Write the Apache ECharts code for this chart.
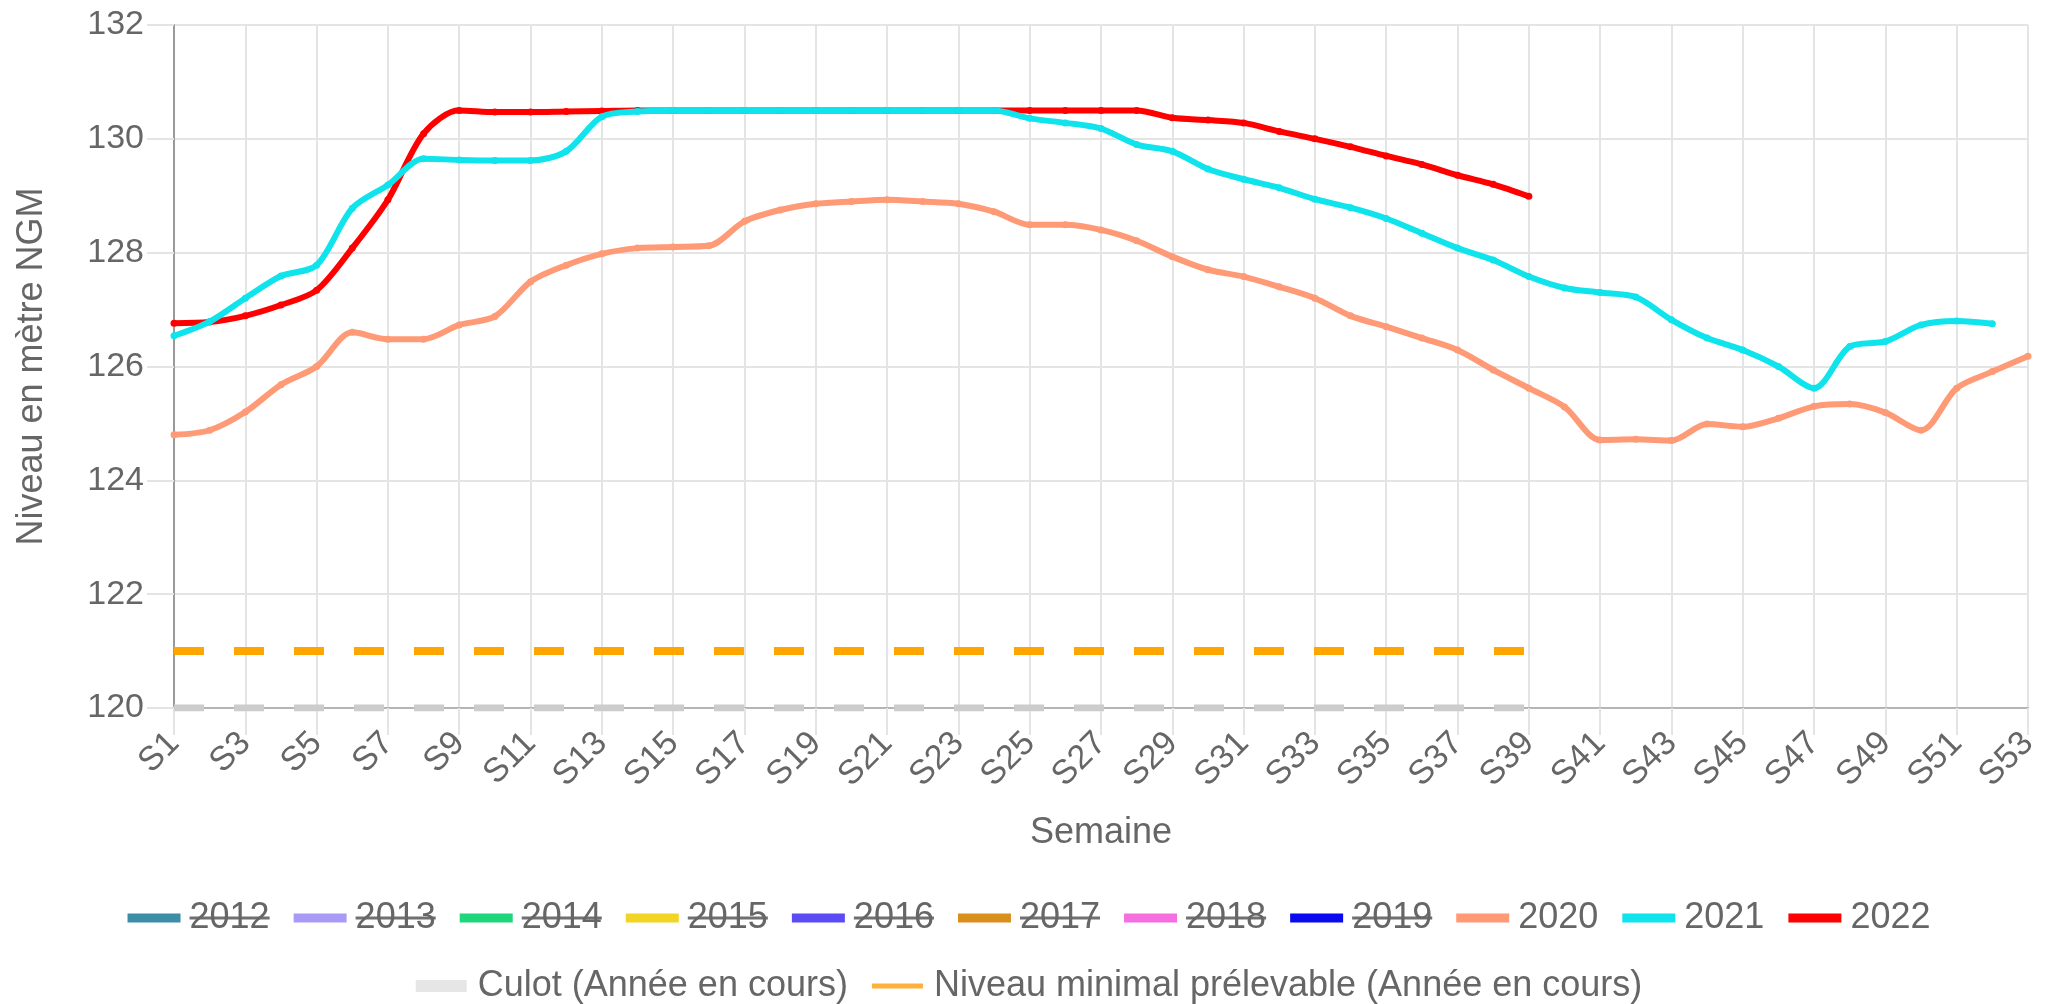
<!DOCTYPE html>
<html>
<head>
<meta charset="utf-8">
<script src="https://cdn.jsdelivr.net/npm/echarts@6/dist/echarts.min.js"></script>
<style>
html,body{margin:0;padding:0;background:#fff;}
#chart{width:2058px;height:1004px;}
</style>
</head>
<body>
<div id="chart"></div>
<script>
const weeks = ['S1','S2','S3','S4','S5','S6','S7','S8','S9','S10','S11','S12','S13','S14','S15','S16','S17','S18','S19','S20','S21','S22','S23','S24','S25','S26','S27','S28','S29','S30','S31','S32','S33','S34','S35','S36','S37','S38','S39','S40','S41','S42','S43','S44','S45','S46','S47','S48','S49','S50','S51','S52','S53'];
const yTicks = [120, 122, 124, 126, 128, 130, 132];

const years = ['2012','2013','2014','2015','2016','2017','2018','2019','2020','2021','2022'];
const hiddenYears = ['2012','2013','2014','2015','2016','2017','2018','2019'];

const y2012 = [];
const y2013 = [];
const y2014 = [];
const y2015 = [];
const y2016 = [];
const y2017 = [];
const y2018 = [];
const y2019 = [];
const y2020 = [124.8,124.88,125.2,125.68,126.0,126.6,126.48,126.48,126.73,126.88,127.49,127.78,127.98,128.08,128.1,128.12,128.55,128.75,128.86,128.9,128.93,128.9,128.86,128.72,128.49,128.49,128.4,128.21,127.93,127.7,127.58,127.4,127.2,126.89,126.7,126.5,126.29,125.94,125.62,125.29,124.71,124.72,124.7,124.99,124.94,125.09,125.3,125.34,125.19,124.88,125.62,125.91,126.18];
const y2021 = [126.54,126.79,127.2,127.59,127.78,128.78,129.19,129.65,129.63,129.62,129.62,129.78,130.39,130.48,130.5,130.5,130.5,130.5,130.5,130.5,130.5,130.5,130.5,130.5,130.36,130.28,130.18,129.9,129.78,129.47,129.29,129.14,128.94,128.79,128.6,128.34,128.08,127.87,127.58,127.38,127.3,127.22,126.82,126.5,126.29,126.0,125.62,126.35,126.44,126.73,126.8,126.75];
const y2022 = [126.76,126.78,126.89,127.08,127.34,128.08,128.93,130.09,130.5,130.47,130.47,130.48,130.49,130.5,130.5,130.5,130.5,130.5,130.5,130.5,130.5,130.5,130.5,130.5,130.5,130.5,130.5,130.5,130.37,130.33,130.28,130.13,130.0,129.86,129.7,129.55,129.36,129.2,128.99];
const culot = [120,120,120,120,120,120,120,120,120,120,120,120,120,120,120,120,120,120,120,120,120,120,120,120,120,120,120,120,120,120,120,120,120,120,120,120,120,120,120];
const niveauMin = [121,121,121,121,121,121,121,121,121,121,121,121,121,121,121,121,121,121,121,121,121,121,121,121,121,121,121,121,121,121,121,121,121,121,121,121,121,121,121];

const yearData = [y2012,y2013,y2014,y2015,y2016,y2017,y2018,y2019,y2020,y2021,y2022];
const yearColors = ['#3B8EA5','#A99BF5','#1FD67A','#F2D524','#5A4BF5','#D98E1E','#F56FDF','#0A0AF0','#FF9A76','#0FE3EB','#FF0000'];
const yearZ = [2,2,2,2,2,2,2,2,6,5,4];

const FONT = '"Liberation Sans", Arial, Helvetica, sans-serif';
const grayText = '#666';
const gridColor = '#e4e4e4';

const series = years.map((y, i) => ({
  name: y,
  type: 'line',
  data: yearData[i],
  z: yearZ[i],
  smooth: 0.3,
  symbol: 'circle',
  symbolSize: 7,
  showSymbol: true,
  lineStyle: { width: 6, color: yearColors[i] },
  itemStyle: { color: yearColors[i] },
  emphasis: { disabled: true }
}));
series.push({
  name: 'Culot (Année en cours)',
  type: 'line',
  data: culot,
  z: 3,
  showSymbol: false,
  lineStyle: { width: 7, color: '#cccccc', type: [30, 30] },
  itemStyle: { color: '#e6e6e6' },
  emphasis: { disabled: true }
});
series.push({
  name: 'Niveau minimal prélevable (Année en cours)',
  type: 'line',
  data: niveauMin,
  z: 3,
  showSymbol: false,
  lineStyle: { width: 8, color: '#FFA500', type: [30, 30] },
  itemStyle: { color: '#FFA500' },
  emphasis: { disabled: true }
});

const chart = echarts.init(document.getElementById('chart'), null, { renderer: 'canvas' });
chart.setOption({
  animation: false,
  backgroundColor: '#ffffff',
  textStyle: { fontFamily: FONT },
  grid: { left: 174, right: 30, top: 25, bottom: 296 },
  legend: [
    {
      data: years,
      top: 900,
      left: 'center',
      padding: 0,
      icon: 'rect',
      itemWidth: 53,
      itemHeight: 9,
      itemGap: 24,
      selectedMode: false,
      textStyle: {
        fontSize: 36, color: grayText, fontFamily: FONT, padding: [0, 0, 0, 4],
        rich: {
          s: { fontSize: 36, color: grayText, fontFamily: FONT, backgroundColor: '#707070', height: 3 }
        }
      },
      formatter: name => hiddenYears.includes(name) ? '{s|' + name + '}' : name
    },
    {
      data: [
        { name: 'Culot (Année en cours)', icon: 'rect', itemStyle: { color: '#e6e6e6' } },
        { name: 'Niveau minimal prélevable (Année en cours)', icon: 'path://M0,0H100V10H0Z', itemStyle: { color: '#FFB03A' } }
      ],
      top: 968,
      left: 'center',
      padding: 0,
      itemWidth: 51,
      itemHeight: 12,
      itemGap: 24,
      selectedMode: false,
      textStyle: { fontSize: 36, color: grayText, fontFamily: FONT, padding: [0, 0, 0, 6] }
    }
  ],
  xAxis: {
    type: 'category',
    data: weeks,
    boundaryGap: false,
    name: 'Semaine',
    nameLocation: 'middle',
    nameGap: 107,
    nameTextStyle: { fontSize: 36, color: grayText, fontFamily: FONT },
    axisLine: { show: true, lineStyle: { color: '#b5b5b5', width: 2 } },
    axisTick: { show: true, interval: 1, length: 27, lineStyle: { color: gridColor, width: 2 } },
    axisLabel: { interval: 1, rotate: 45, margin: 30, fontSize: 34, color: grayText, fontFamily: FONT },
    splitLine: { show: true, interval: 1, lineStyle: { color: gridColor, width: 2 } }
  },
  yAxis: {
    type: 'value',
    min: yTicks[0],
    max: yTicks[yTicks.length - 1],
    interval: 2,
    name: 'Niveau en mètre NGM',
    nameLocation: 'middle',
    nameGap: 124,
    nameTextStyle: { fontSize: 36, color: grayText, fontFamily: FONT },
    axisLine: { show: true, lineStyle: { color: '#9a9a9a', width: 2 } },
    axisTick: { show: true, length: 27, lineStyle: { color: gridColor, width: 2 } },
    axisLabel: { margin: 30, fontSize: 34, color: grayText, fontFamily: FONT },
    splitLine: { show: true, lineStyle: { color: gridColor, width: 2 } }
  },
  series: series
});
</script>
</body>
</html>
